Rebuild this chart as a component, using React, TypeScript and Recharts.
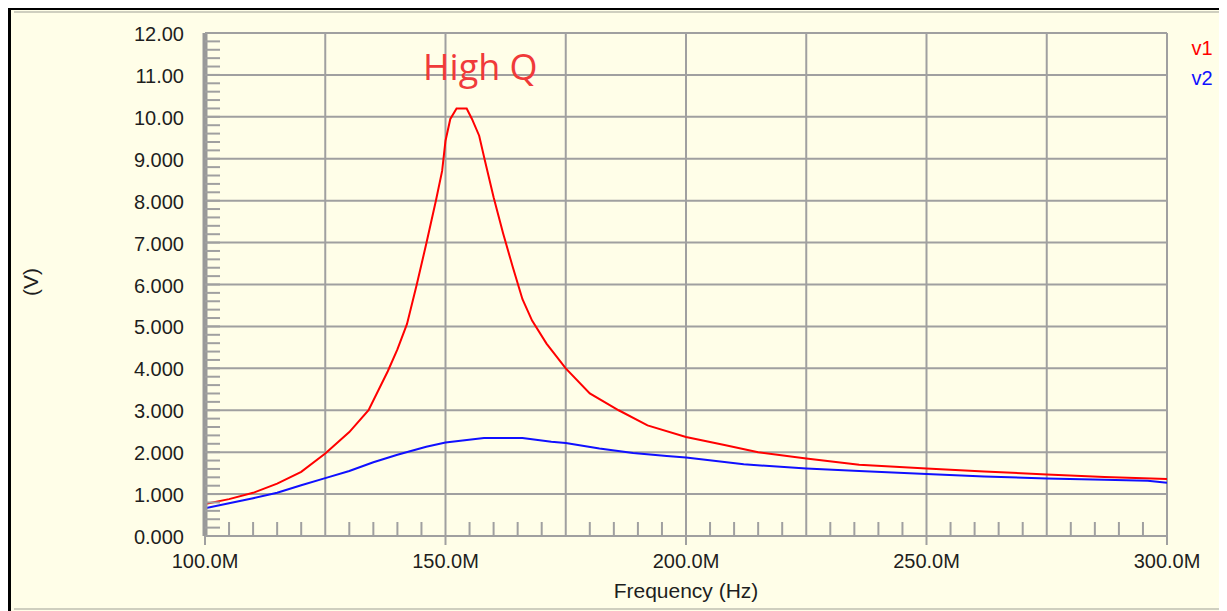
import { LineChart, Line, XAxis, YAxis, CartesianGrid } from "recharts";

// v1 (high Q resonance) and v2, frequency in MHz
const freqV1 = [100, 105, 110, 115, 120, 125, 130, 134, 138, 140, 142, 144, 146, 148, 149.3, 150, 151, 152.3, 154.4, 155.5, 157, 158.2, 160, 162, 164, 166, 168, 171, 175, 180, 186, 192, 200, 208, 215, 225, 236, 250, 262, 275, 287, 300];
const v1 = [0.76, 0.88, 1.03, 1.25, 1.53, 1.97, 2.48, 3.0, 3.93, 4.45, 5.06, 5.99, 6.97, 8.0, 8.71, 9.43, 9.95, 10.2, 10.2, 9.95, 9.55, 8.95, 8.08, 7.21, 6.41, 5.65, 5.14, 4.59, 4.0, 3.4, 3.0, 2.64, 2.36, 2.17, 2.0, 1.85, 1.7, 1.61, 1.54, 1.47, 1.41, 1.36];

const freqV2 = [100, 105, 110, 115, 120, 125, 130, 135, 140, 146, 150, 158, 166, 172, 175, 182, 189, 196, 200, 212, 225, 236, 250, 262, 275, 287, 296, 300];
const v2 = [0.66, 0.78, 0.9, 1.03, 1.21, 1.38, 1.55, 1.76, 1.94, 2.13, 2.23, 2.34, 2.34, 2.25, 2.22, 2.09, 1.98, 1.91, 1.87, 1.71, 1.61, 1.55, 1.48, 1.42, 1.37, 1.34, 1.32, 1.27];

const xGrid = [100, 125, 150, 175, 200, 225, 250, 275, 300];
const yGrid = [0, 1, 2, 3, 4, 5, 6, 7, 8, 9, 10, 11, 12];
// minor ticks: every 5M on x, every 0.2V on y
const xTicks = Array.from({ length: 41 }, (_, i) => 100 + i * 5);
const yTicks = Array.from({ length: 61 }, (_, i) => i / 5);

const rows1 = freqV1.map((f, i) => ({ f, v: v1[i] }));
const rows2 = freqV2.map((f, i) => ({ f, v: v2[i] }));

const FONT = "'Liberation Sans', Arial, sans-serif";
const GRID = "#a0a0a0";
const TXT = "#1e1e1e";

function XTick(props: any) {
  const { x, y, payload } = props;
  const v = payload.value;
  if (v % 50 === 0) {
    return (
      <g>
        <line x1={x} y1={y} x2={x} y2={y + 9} stroke={GRID} strokeWidth={2} />
        <text x={x} y={y + 32} textAnchor="middle" fontSize={20} fontFamily={FONT} fill={TXT}>
          {v.toFixed(1) + "M"}
        </text>
      </g>
    );
  }
  if (v % 25 === 0) return <g />;
  return <line x1={x} y1={y} x2={x} y2={y - 14} stroke={GRID} strokeWidth={2} />;
}

function YTick(props: any) {
  const { x, y, payload } = props;
  const v = payload.value;
  const whole = Math.abs(v - Math.round(v)) < 1e-6;
  return (
    <g>
      <line x1={x} y1={y} x2={x + 15} y2={y} stroke={GRID} strokeWidth={2} />
      {whole && (
        <text x={x - 21} y={y + 8} textAnchor="end" fontSize={20} fontFamily={FONT} fill={TXT}>
          {v >= 10 ? v.toFixed(2) : v.toFixed(3)}
        </text>
      )}
    </g>
  );
}

export default function App() {
  return (
    <div style={{ position: "relative", width: 1219, height: 603, background: "#fffee8" }}>
      {/* window frame */}
      <div style={{ position: "absolute", left: 0, top: 0, width: 1219, height: 2, background: "#000" }} />
      <div style={{ position: "absolute", left: 0, top: 0, width: 3, height: 603, background: "#000" }} />
      <div style={{ position: "absolute", left: 6, top: 3, width: 1213, height: 2, background: "#cfcfbf" }} />
      <div style={{ position: "absolute", left: 6, top: 600, width: 1213, height: 2, background: "#cfcfbf" }} />

      <LineChart
        width={1219}
        height={603}
        margin={{ top: 25, right: 60, bottom: 15, left: 137 }}
        style={{ position: "absolute", left: 0, top: 0 }}
      >
        <CartesianGrid
          stroke={GRID}
          strokeWidth={2}
          horizontalValues={yGrid}
          verticalValues={xGrid}
        />
        <XAxis
          dataKey="f"
          type="number"
          domain={[100, 300]}
          ticks={xTicks}
          interval={0}
          height={60}
          tickSize={0}
          tickMargin={0}
          axisLine={{ stroke: GRID, strokeWidth: 2 }}
          tick={<XTick />}
          allowDataOverflow
        />
        <YAxis
          type="number"
          domain={[0, 12]}
          ticks={yTicks}
          interval={0}
          width={60}
          tickSize={0}
          tickMargin={0}
          axisLine={{ stroke: "#999999", strokeWidth: 5 }}
          tick={<YTick />}
          allowDataOverflow
        />
        <Line data={rows1} dataKey="v" type="linear" stroke="#ff0000" strokeWidth={2} dot={false} isAnimationActive={false} />
        <Line data={rows2} dataKey="v" type="linear" stroke="#1010ff" strokeWidth={2} dot={false} isAnimationActive={false} />
      </LineChart>

      <svg width={1219} height={603} style={{ position: "absolute", left: 0, top: 0, pointerEvents: "none" }}>
        <text x={415} y={72} fontSize={36} fontFamily="'Open Sans', sans-serif" fill="#f03a3a">High Q</text>
        <text x={1183.5} y={47} fontSize={20} fontFamily={FONT} fill="#ff0000">v1</text>
        <text x={1183.5} y={77} fontSize={20} fontFamily={FONT} fill="#1010ff">v2</text>
        <text x={678} y={590} textAnchor="middle" fontSize={21} fontFamily={FONT} fill={TXT}>Frequency (Hz)</text>
        <text x={30} y={274} textAnchor="middle" fontSize={21} fontFamily={FONT} fill={TXT} transform="rotate(-90 30 274)">(V)</text>
      </svg>
    </div>
  );
}
